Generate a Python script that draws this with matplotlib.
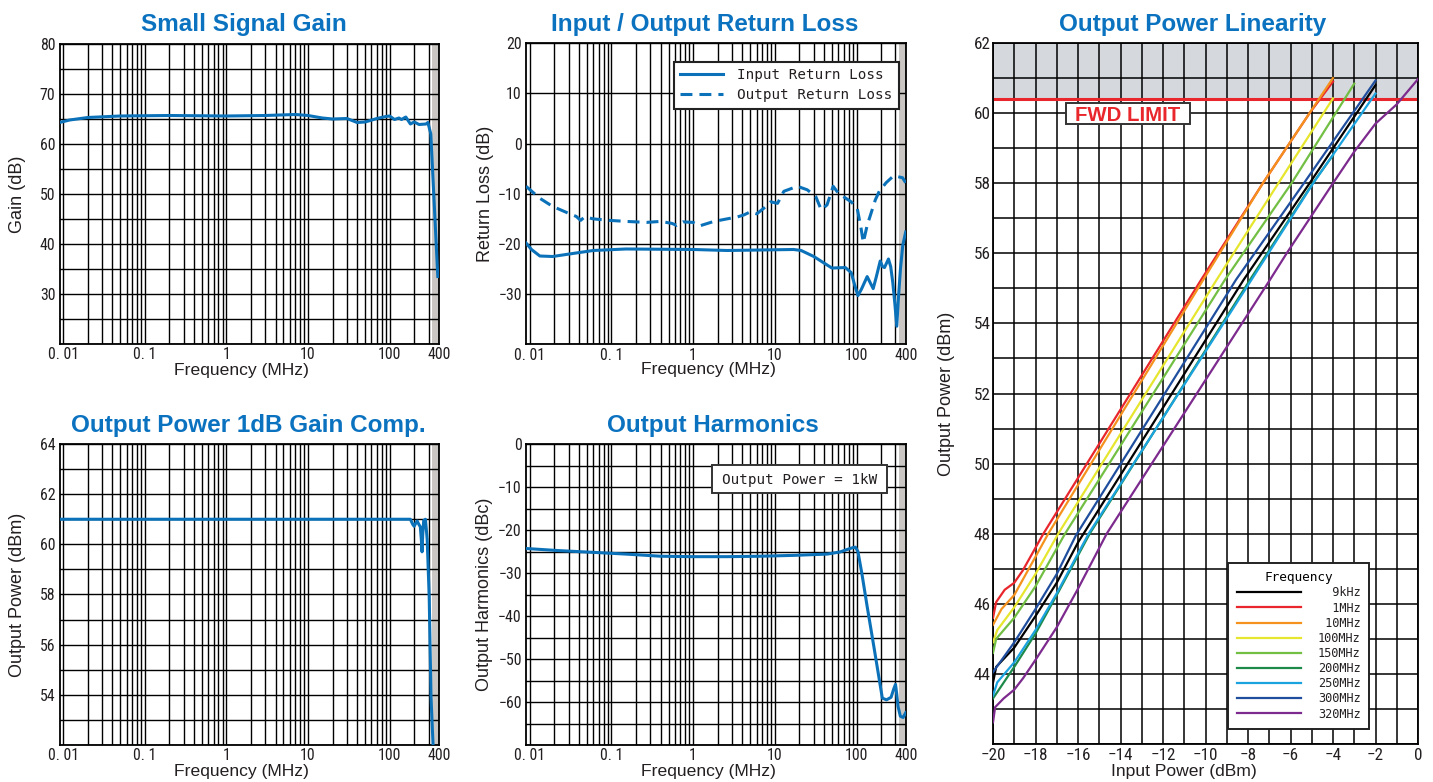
import matplotlib
matplotlib.use("Agg")
import matplotlib.pyplot as plt
from matplotlib import font_manager as fm
from matplotlib.ticker import FixedLocator, FixedFormatter, NullFormatter
from matplotlib.patches import Rectangle

# ---------------- data ----------------
freq_ticks = [0.01, 0.1, 1, 10, 100, 400]
freq_ticklabels = ["0. 01", "0. 1", "1", "10", "100", "400"]

gain_freq = [0.009, 0.012, 0.02, 0.05, 0.2, 1, 3, 7, 10, 15, 20, 30, 40, 50, 70,
             90, 100, 115, 130, 140, 158, 180, 200, 230, 280, 295, 320, 390]
gain_db = [64.3, 64.8, 65.3, 65.6, 65.7, 65.6, 65.7, 65.9, 65.7, 65.2, 65.0, 65.1,
           64.3, 64.4, 65.1, 65.5, 65.6, 64.9, 65.2, 64.9, 65.4, 64.0, 64.4, 63.9,
           64.0, 64.3, 62.0, 33.5]

irl_freq = [0.009, 0.0105, 0.0133, 0.019, 0.037, 0.06, 0.15, 1.0, 2.6, 17, 21, 30,
            40, 50, 73, 86, 95, 104, 115, 135, 150, 160, 175, 195, 208, 220, 246,
            262, 278, 295, 311, 325, 345, 368, 400]
irl_db = [-19.8, -21.1, -22.4, -22.5, -21.8, -21.3, -21.0, -21.1, -21.3, -21.1,
          -21.3, -22.5, -23.8, -24.8, -24.7, -25.7, -28.2, -30.3, -29.0, -26.5,
          -28.0, -28.9, -26.5, -23.4, -24.5, -24.7, -23.0, -24.5, -27.7, -32.0,
          -36.4, -31.0, -25.0, -20.3, -17.6]

orl_freq = [0.009, 0.0133, 0.019, 0.029, 0.037, 0.042, 0.047, 0.06, 0.095, 0.15,
            0.27, 0.4, 0.55, 0.63, 0.75, 1.0, 1.2, 1.8, 2.6, 3.5, 4.2, 5.0, 6.0,
            7.3, 8.9, 10.8, 12.9, 18.9, 24.9, 31.6, 37, 43.6, 51.8, 60, 86, 102,
            114, 121, 135, 170, 190, 230, 285, 366, 400]
orl_db = [-8.5, -10.9, -12.5, -13.8, -14.5, -15.3, -14.6, -15.0, -15.3, -15.5,
          -15.7, -15.5, -15.9, -16.3, -15.6, -15.7, -16.4, -15.5, -15.0, -14.6,
          -14.2, -13.6, -14.0, -12.9, -11.6, -11.9, -9.5, -8.5, -9.2, -10.5,
          -13.2, -12.2, -8.5, -9.9, -11.6, -12.9, -17.0, -19.7, -16.3, -11.2,
          -9.5, -7.8, -6.4, -6.8, -7.8]

p1db_freq = [0.009, 100, 180, 192, 200, 210, 218, 228, 238, 245, 250, 255, 262,
             275, 289, 306, 322, 341, 350]
p1db_dbm = [61.0, 61.0, 61.0, 60.8, 60.72, 60.85, 60.93, 60.8, 60.7, 60.2, 59.7,
            60.4, 60.95, 61.0, 60.2, 57.9, 53.9, 52.0, 51.0]

harm_freq = [0.009, 0.023, 0.06, 0.15, 0.4, 1.0, 2.6, 6.6, 17, 44, 63, 75, 90, 97,
             104, 116, 135, 163, 190, 207, 233, 265, 285, 300, 310, 322, 344, 372,
             400]
harm_dbc = [-24.3, -24.8, -25.2, -25.6, -26.1, -26.2, -26.2, -26.1, -25.9, -25.6,
            -25.1, -24.6, -24.1, -24.0, -25.0, -30.0, -37.8, -47.1, -54.8, -59.1,
            -59.5, -58.9, -57.0, -55.9, -58.0, -61.0, -63.3, -63.6, -62.5]

lin_labels = ["9kHz", "1MHz", "10MHz", "100MHz", "150MHz", "200MHz", "250MHz",
              "300MHz", "320MHz"]
lin_colors = ["#000000", "#E8262B", "#F5921E", "#E6E62E", "#72BF44", "#1E8A4A",
              "#1AA3DF", "#1F4E9E", "#7D2A8E"]
lin_in_9k = [-20, -19.85, -19, -18, -17, -16, -8.2, -5.1, -2]
lin_out_9k = [43.75, 44.2, 44.75, 45.65, 46.6, 47.75, 55.25, 58.0, 60.8]
lin_in_1M = [-20, -19.85, -19.45, -19, -18.6, -17.63, -10.2, -7.3, -5.1, -4]
lin_out_1M = [45.6, 46.05, 46.4, 46.6, 46.95, 48.0, 55.25, 58.0, 60.0, 60.9]
lin_in_10M = [-20, -19.6, -19, -18.45, -17.4, -10.1, -7.3, -5.05, -4]
lin_out_10M = [45.4, 45.85, 46.25, 46.85, 48.0, 55.25, 58.0, 60.05, 61.0]
lin_in_100M = [-20, -19.8, -19, -18, -16.93, -9.47, -6.57, -4]
lin_out_100M = [44.9, 45.25, 45.9, 46.85, 48.0, 55.25, 58.0, 60.42]
lin_in_150M = [-20, -19.85, -19, -18, -16.61, -9.08, -5.95, -3]
lin_out_150M = [44.6, 45.0, 45.6, 46.5, 48.0, 55.25, 58.0, 60.84]
lin_in_200M = [-20, -19, -18, -17, -15.45, -7.9, -4.95, -4]
lin_out_200M = [43.3, 44.2, 45.15, 46.25, 48.0, 55.25, 58.0, 58.8]
lin_in_250M = [-20, -19.8, -19, -18, -17, -15.5, -7.83, -4.93, -2]
lin_out_250M = [43.38, 43.76, 44.33, 45.25, 46.3, 48.0, 55.25, 58.0, 60.56]
lin_in_300M = [-20, -19, -18, -17, -16.1, -8.56, -5.37, -2]
lin_out_300M = [44.05, 44.9, 45.85, 46.85, 47.95, 55.25, 58.0, 60.93]
lin_in_320M = [-20, -19.9, -19.5, -19, -18.58, -18, -17, -16, -14.65, -6.96,
               -6.18, -4, -3, -2, -1, 0]
lin_out_320M = [42.62, 43.05, 43.3, 43.55, 43.88, 44.4, 45.33, 46.43, 48.0,
                55.25, 56.0, 58.0, 58.9, 59.7, 60.25, 60.97]
fwd_limit = 60.4

# ---------------- style ----------------
_fonts = fm.fontManager.ttflist
_names = {f.name for f in _fonts}
TICK_STRETCH = "normal"
TICKF = ["DejaVu Sans"]
TS = 0.9
for _c in ["Liberation Sans Narrow", "Roboto Condensed", "Open Sans Condensed",
           "Noto Sans Condensed", "DejaVu Sans Condensed"]:
    if _c in _names:
        TICKF = [_c, "DejaVu Sans"]
        TS = 1.0
        break
else:
    if any(f.name == "DejaVu Sans" and "ondensed" in f.fname for f in _fonts):
        TICK_STRETCH = "condensed"
        TS = 1.0
SANS = ["Liberation Sans", "DejaVu Sans"]
MONO = ["DejaVu Sans Mono"]
TXT = "#231F20"
BLUE = "#0B72BA"
TITLE = "#0B72C0"
BAND = "#C9C6C3"

W, H = 1433, 782
fig = plt.figure(figsize=(W / 100, H / 100), dpi=100)


def rect(l, t, r, b):
    return [l / W, 1 - b / H, (r - l) / W, (b - t) / H]


def style_ticklabels(ax, size):
    for lbl in ax.get_xticklabels() + ax.get_yticklabels():
        lbl.set_fontfamily(TICKF)
        lbl.set_fontstretch(TICK_STRETCH)
        lbl.set_fontsize(size)
        lbl.set_color(TXT)


grid_freqs = [m * 10.0 ** e for e in range(-2, 3) for m in range(1, 10)
              if m * 10.0 ** e < 400]


def setup_freq(ax, ylim, ymaj, ymin, ylabel, ylab_x, xlab_y):
    ax.set_xscale("log")
    ax.set_xlim(0.009, 400)
    ax.set_ylim(*ylim)
    ax.xaxis.set_major_locator(FixedLocator(freq_ticks))
    ax.xaxis.set_major_formatter(FixedFormatter(freq_ticklabels))
    ax.xaxis.set_minor_locator(FixedLocator(grid_freqs))
    ax.xaxis.set_minor_formatter(NullFormatter())
    ax.yaxis.set_major_locator(FixedLocator(ymaj))
    ax.yaxis.set_minor_locator(FixedLocator(ymin))
    ax.set_axisbelow(True)
    ax.grid(True, which="both", color="black", lw=1.0)
    ax.tick_params(which="both", length=0)
    ax.tick_params(axis="x", pad=2.5)
    ax.tick_params(axis="y", pad=3)
    style_ticklabels(ax, 11.4 * TS)
    ax.axvspan(330, 400, color=BAND, zorder=0.1, lw=0)
    for s in ax.spines.values():
        s.set_linewidth(1.3)
    ax.set_ylabel(ylabel, family=SANS, fontsize=13, color=TXT)
    ax.yaxis.set_label_coords(ylab_x, 0.5)
    ax.set_xlabel("Frequency (MHz)", family=SANS, fontsize=12.6, color=TXT)
    ax.xaxis.set_label_coords(0.48, xlab_y)


def title(x, y, s):
    fig.text(x / W, 1 - y / H, s, ha="center", va="baseline", color=TITLE,
             fontsize=17.5, weight="bold", family=SANS)


# ---- Small signal gain ----
ax1 = fig.add_axes(rect(59.5, 44, 438.7, 344))
setup_freq(ax1, (20, 80), list(range(30, 81, 10)), list(range(20, 81, 5)),
           "Gain (dB)", -0.088, -0.064)
ax1.plot(gain_freq, gain_db, color=BLUE, lw=2.2, zorder=3)
title(243.5, 31, "Small Signal Gain")

# ---- Return loss ----
ax2 = fig.add_axes(rect(526, 43.3, 905.7, 344.3))
setup_freq(ax2, (-40, 20), list(range(-30, 21, 10)), list(range(-40, 21, 10)),
           "Return Loss (dB)", -0.084, -0.058)
l_in, = ax2.plot(irl_freq, irl_db, color=BLUE, lw=2.2, zorder=3,
                 label="Input Return Loss")
l_out, = ax2.plot(orl_freq, orl_db, color=BLUE, lw=2.2, zorder=3,
                  ls=(0, (3.9, 2.3)), label="Output Return Loss")
leg2 = ax2.legend(handles=[l_in, l_out], loc="upper right",
                  bbox_to_anchor=(0.982, 0.938), borderaxespad=0,
                  prop={"family": MONO, "size": 10.3}, fancybox=False,
                  framealpha=1, edgecolor="#222222", handlelength=3.0,
                  handletextpad=1.0, borderpad=0.45, labelspacing=0.4)
leg2.get_frame().set_linewidth(1.5)
for t in leg2.get_texts():
    t.set_color(TXT)
title(704.5, 31, "Input / Output Return Loss")

# ---- 1dB compression ----
ax3 = fig.add_axes(rect(59.5, 444, 438.7, 745))
setup_freq(ax3, (52, 64), list(range(54, 65, 2)), list(range(52, 65, 1)),
           "Output Power (dBm)", -0.088, -0.062)
ax3.plot(p1db_freq, p1db_dbm, color=BLUE, lw=2.2, zorder=3)
title(248.5, 432, "Output Power 1dB Gain Comp.")

# ---- Harmonics ----
ax4 = fig.add_axes(rect(526, 444, 905.7, 745))
setup_freq(ax4, (-70, 0), list(range(-60, 1, 10)), list(range(-70, 1, 5)),
           "Output Harmonics (dBc)", -0.087, -0.062)
ax4.plot(harm_freq, harm_dbc, color=BLUE, lw=2.2, zorder=3)
ax4.add_patch(Rectangle((0.4899, 0.8372), 0.4609, 0.0930, transform=ax4.transAxes,
                        fc="white", ec="#333333", lw=1.4, zorder=4))
ax4.text(0.7203, 0.8664, "Output Power = 1kW", transform=ax4.transAxes,
         ha="center", va="baseline", family=MONO, fontsize=10.3, color=TXT,
         zorder=5)
title(713, 432, "Output Harmonics")

# ---- Linearity ----
ax5 = fig.add_axes(rect(993, 43, 1418, 744))
ax5.set_xlim(-20, 0)
ax5.set_ylim(42, 62)
ax5.xaxis.set_major_locator(FixedLocator(list(range(-20, 1, 2))))
ax5.xaxis.set_minor_locator(FixedLocator(list(range(-20, 1, 1))))
ax5.yaxis.set_major_locator(FixedLocator(list(range(44, 63, 2))))
ax5.yaxis.set_minor_locator(FixedLocator(list(range(42, 63, 1))))
ax5.set_axisbelow(True)
ax5.grid(True, which="both", color="black", lw=1.1)
ax5.tick_params(which="both", length=0)
ax5.tick_params(axis="x", pad=3)
ax5.tick_params(axis="y", pad=1.5)
style_ticklabels(ax5, 12.3 * TS)
for s in ax5.spines.values():
    s.set_linewidth(1.3)
ax5.axhspan(fwd_limit, 62, color="#D5D8DD", zorder=0.1, lw=0)
ax5.axhline(fwd_limit, color="#E8262B", lw=2.2, zorder=1.8)

lin_series = [(lin_in_9k, lin_out_9k), (lin_in_1M, lin_out_1M),
              (lin_in_10M, lin_out_10M), (lin_in_100M, lin_out_100M),
              (lin_in_150M, lin_out_150M), (lin_in_200M, lin_out_200M),
              (lin_in_250M, lin_out_250M), (lin_in_300M, lin_out_300M),
              (lin_in_320M, lin_out_320M)]
handles = []
for (xs, ys), c, lab in zip(lin_series, lin_colors, lin_labels):
    h, = ax5.plot(xs, ys, color=c, lw=1.6, zorder=3, label=lab.rjust(6))
    handles.append(h)
leg5 = ax5.legend(handles=handles, loc="lower right",
                  bbox_to_anchor=(0.8847, 0.0214), borderaxespad=0,
                  title="Frequency", prop={"family": MONO, "size": 8.6},
                  title_fontproperties={"family": MONO, "size": 9.2},
                  fancybox=False, framealpha=1, edgecolor="#222222",
                  handlelength=5.4, handletextpad=1.4, borderpad=0.7,
                  labelspacing=0.18)
leg5.get_frame().set_linewidth(1.4)
for t in leg5.get_texts():
    t.set_color(TXT)

ax5.add_patch(Rectangle((0.1718, 0.8845), 0.2918, 0.0300, transform=ax5.transAxes,
                        fc="white", ec="#333333", lw=1.4, zorder=4))
ax5.text(0.3177, 0.889, "FWD LIMIT", transform=ax5.transAxes, ha="center",
         va="baseline", color="#E8262B", fontsize=14.7, weight="bold",
         family=SANS, zorder=5)
ax5.set_ylabel("Output Power (dBm)", family=SANS, fontsize=13, color=TXT)
ax5.yaxis.set_label_coords(-0.089, 0.5)
ax5.set_xlabel("Input Power (dBm)", family=SANS, fontsize=12.6, color=TXT)
ax5.xaxis.set_label_coords(0.449, -0.029)
title(1193, 31, "Output Power Linearity")

fig.savefig("out.png", dpi=100)
